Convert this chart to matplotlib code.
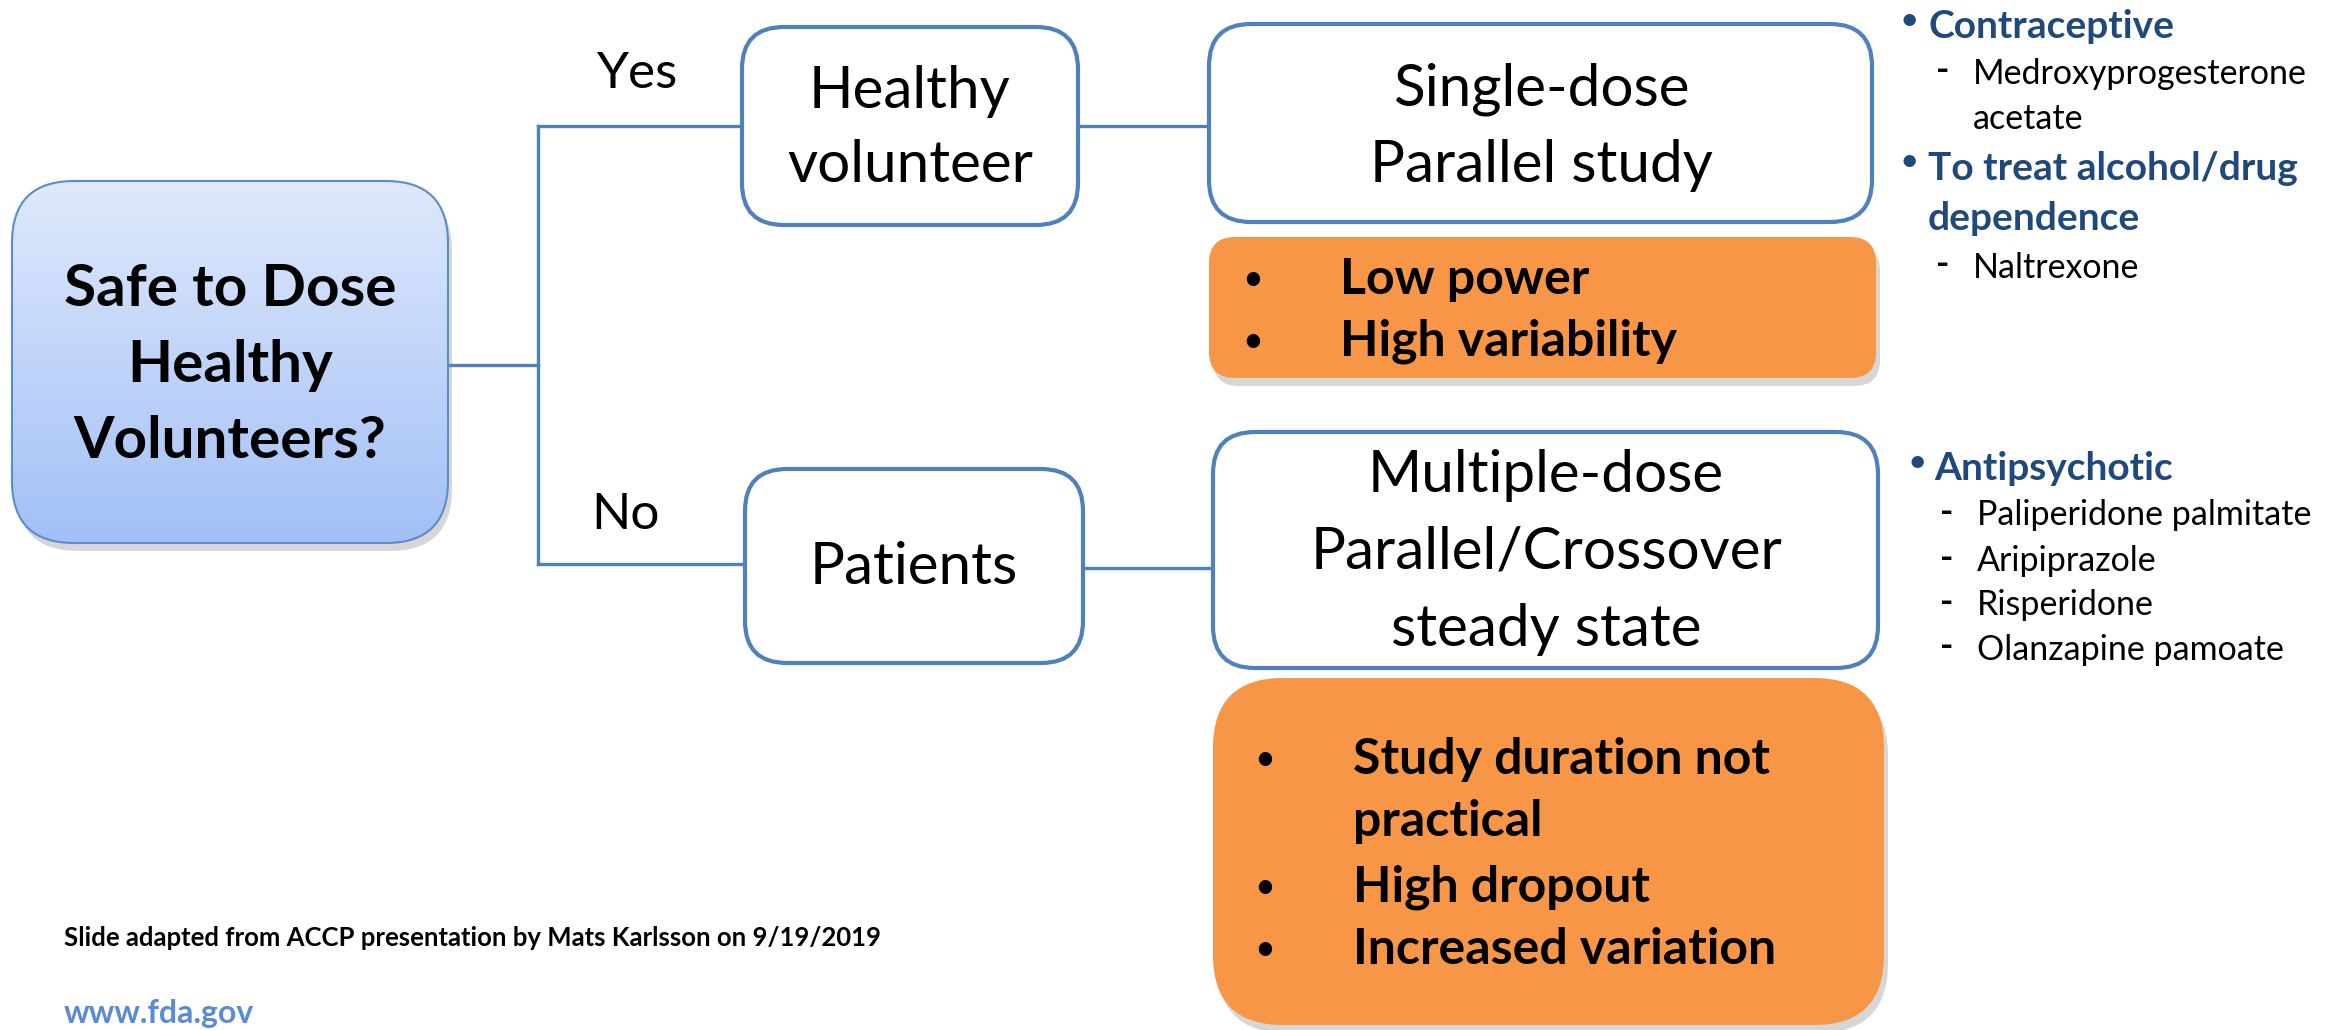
import matplotlib
matplotlib.use("Agg")
import matplotlib.pyplot as plt
from matplotlib.patches import FancyBboxPatch
import numpy as np

plt.rcParams['font.family'] = ['Lato', 'DejaVu Sans']

# texts of the diagram
question = ["Safe to Dose", "Healthy", "Volunteers?"]
answers = ["Yes", "No"]
groups = [["Healthy", "volunteer"], ["Patients"]]
designs = [["Single-dose", "Parallel study"],
           ["Multiple-dose", "Parallel/Crossover", "steady state"]]
issues = [["Low power", "High variability"],
          ["Study duration not", "practical", "High dropout", "Increased variation"]]
issue_bullets = [[True, True], [True, False, True, True]]
top_classes = ["Contraceptive", "To treat alcohol/drug", "dependence"]
top_drugs = ["Medroxyprogesterone", "acetate", "Naltrexone"]
bottom_classes = ["Antipsychotic"]
bottom_drugs = ["Paliperidone palmitate", "Aripiprazole", "Risperidone", "Olanzapine pamoate"]
footnote = "Slide adapted from ACCP presentation by Mats Karlsson on 9/19/2019"
website = "www.fda.gov"

BLUE = "#4F81BD"
ORANGE = "#F79646"
NAVY = "#1F497D"

W, H = 2326, 1030
fig = plt.figure(figsize=(W / 100, H / 100), dpi=100)
ax = fig.add_axes([0, 0, 1, 1])
ax.set_xlim(0, W)
ax.set_ylim(H, 0)
ax.axis("off")


def box(x0, y0, x1, y1, r, face, edge, lw, shadow=False):
    if shadow:
        s = FancyBboxPatch((x0 + 4, y0 + 8), x1 - x0, y1 - y0,
                           boxstyle="round,pad=0,rounding_size=%d" % r,
                           fc="#999999", ec="none", alpha=0.4, zorder=1)
        ax.add_patch(s)
    p = FancyBboxPatch((x0, y0), x1 - x0, y1 - y0,
                       boxstyle="round,pad=0,rounding_size=%d" % r,
                       fc=face, ec=edge, lw=lw, zorder=2)
    ax.add_patch(p)
    return p


# main question box with gradient
p = box(12, 181, 448, 543, 62, "none", "#5B8BD0", 1.5, shadow=True)
grad = np.linspace(0, 1, 256).reshape(-1, 1)
cmap = matplotlib.colors.LinearSegmentedColormap.from_list("g", ["#DFE9FC", "#A2C0F6"])
im = ax.imshow(grad, extent=(12, 448, 543, 181), cmap=cmap, aspect="auto", zorder=2)
im.set_clip_path(p)
p.set_zorder(3)
for t, y in zip(question, [289, 365, 441]):
    ax.text(230, y, t, ha="center", va="center", fontsize=42, fontweight="bold", zorder=4)

# connectors
lk = dict(color=BLUE, lw=2.4, zorder=1)
ax.plot([448, 538], [365, 365], **lk)
ax.plot([538, 538], [126, 564], **lk)
ax.plot([538, 742], [126, 126], **lk)
ax.plot([538, 745], [564, 564], **lk)
ax.plot([1078, 1213], [126, 126], **lk)
ax.plot([1083, 1213], [568, 568], **lk)

ax.text(638, 74, answers[0], ha="center", va="center", fontsize=37)
ax.text(625, 515, answers[1], ha="center", va="center", fontsize=37)

# white boxes
box(742, 27, 1078, 225, 42, "white", BLUE, 3)
for t, y in zip(groups[0], [92, 166]):
    ax.text(910, y, t, ha="center", va="center", fontsize=42, zorder=4)
box(745, 469, 1083, 663, 42, "white", BLUE, 3)
ax.text(914, 568, groups[1][0], ha="center", va="center", fontsize=42, zorder=4)

box(1209, 24, 1872, 222, 42, "white", BLUE, 3)
for t, y in zip(designs[0], [89, 166]):
    ax.text(1541, y, t, ha="center", va="center", fontsize=42, zorder=4)
box(1213, 432, 1878, 668, 42, "white", BLUE, 3)
for t, y in zip(designs[1], [475, 552, 629]):
    ax.text(1546, y, t, ha="center", va="center", fontsize=42, zorder=4)

# orange boxes
box(1209, 237, 1876, 378, 26, ORANGE, "none", 0, shadow=True)
for t, b, y in zip(issues[0], issue_bullets[0], [279, 341]):
    if b:
        ax.text(1253, y, "\u2022", ha="center", va="center", fontsize=26, zorder=4)
    ax.text(1340, y, t, ha="left", va="center", fontsize=36, fontweight="bold", zorder=4)
box(1213, 678, 1884, 1025, 70, ORANGE, "none", 0, shadow=True)
for t, b, y in zip(issues[1], issue_bullets[1], [760, 822, 887, 949]):
    if b:
        ax.text(1265, y, "\u2022", ha="center", va="center", fontsize=26, zorder=4)
    ax.text(1353, y, t, ha="left", va="center", fontsize=36, fontweight="bold", zorder=4)

# right side lists
for t, b, y in zip(top_classes, [True, True, False], [27, 168, 218]):
    if b:
        ax.text(1909, y - 6, "\u2022", ha="center", va="center", fontsize=24, color=NAVY)
    ax.text(1928, y, t, ha="left", va="center", fontsize=28, fontweight="bold", color=NAVY)
for t, d, y in zip(top_drugs, [True, False, True], [74, 119, 268]):
    if d:
        ax.text(1943, y - 3, "-", ha="center", va="center", fontsize=26, fontweight="bold")
    ax.text(1973, y, t, ha="left", va="center", fontsize=24.5)

for t, y in zip(bottom_classes, [469]):
    ax.text(1917, y - 6, "\u2022", ha="center", va="center", fontsize=24, color=NAVY)
    ax.text(1934, y, t, ha="left", va="center", fontsize=28, fontweight="bold", color=NAVY)
for t, y in zip(bottom_drugs, [515, 561, 605, 650]):
    ax.text(1947, y - 3, "-", ha="center", va="center", fontsize=26, fontweight="bold")
    ax.text(1977, y, t, ha="left", va="center", fontsize=24.5)

# footer
ax.text(64, 938, footnote, ha="left", va="center", fontsize=18.5, fontweight="bold")
ax.text(64, 1014, website, ha="left", va="center", fontsize=23, fontweight="bold", color="#5B8BD5")

fig.savefig("out.png", dpi=100)
